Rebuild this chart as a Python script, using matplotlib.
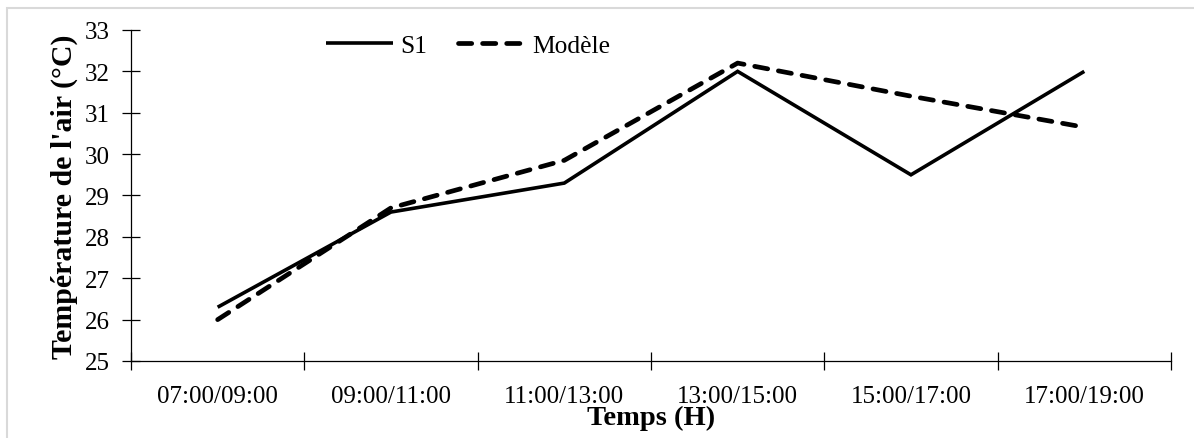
import matplotlib
matplotlib.use("Agg")
import matplotlib.pyplot as plt
from matplotlib.patches import Rectangle
import numpy as np

periods = ["07:00/09:00", "09:00/11:00", "11:00/13:00",
           "13:00/15:00", "15:00/17:00", "17:00/19:00"]
s1 = [26.3, 28.6, 29.3, 32.0, 29.5, 32.0]
modele = [26.0, 28.7, 29.85, 32.2, 31.4, 30.65]
yticks = [25, 26, 27, 28, 29, 30, 31, 32, 33]

plt.rcParams["font.family"] = ["Liberation Serif", "DejaVu Serif"]

fig = plt.figure(figsize=(11.94, 4.39), dpi=100)
ax = fig.add_axes([0.1097, 0.1754, 0.871, 0.754])

# light frame around the figure
fig.patches.append(Rectangle((0.006, -0.05), 1.1, 1.03, transform=fig.transFigure,
                             fill=False, edgecolor="#d9d9d9", linewidth=1.5))

x = np.arange(len(periods))
ax.plot(x, s1, color="black", linewidth=2.6, solid_capstyle="butt",
        solid_joinstyle="miter", label="S1")
ax.plot(x, modele, color="black", linewidth=3.4, linestyle=(0, (2.8, 2.3)),
        dash_capstyle="round", label="Modèle")

ax.set_xlim(-0.5, len(periods) - 0.5)
ax.set_ylim(yticks[0], yticks[-1])
ax.set_yticks(yticks)
ax.set_xticks(np.arange(len(periods) + 1) - 0.5)
ax.set_xticklabels([])
ax.set_xticks(x, minor=True)
ax.set_xticklabels(periods, minor=True)

ax.tick_params(axis="x", which="major", direction="inout", length=13, width=0.9)
ax.tick_params(axis="x", which="minor", length=0, labelsize=18, pad=17)
ax.tick_params(axis="y", direction="inout", length=13, width=0.9, labelsize=18, pad=9)

for side in ["top", "right"]:
    ax.spines[side].set_visible(False)
for side in ["left", "bottom"]:
    ax.spines[side].set_linewidth(0.9)

ax.set_ylabel("Température de l'air (°C)", fontsize=21.5, fontweight="bold", labelpad=5)
ax.set_xlabel("Temps (H)", fontsize=20.5, fontweight="bold", labelpad=-1)

leg = ax.legend(loc="upper left", bbox_to_anchor=(0.1655, 1.057), ncol=2, frameon=False,
                fontsize=18.4, handlelength=2.6, handletextpad=0.3, columnspacing=1.2)

fig.savefig("out.png", dpi=100)
